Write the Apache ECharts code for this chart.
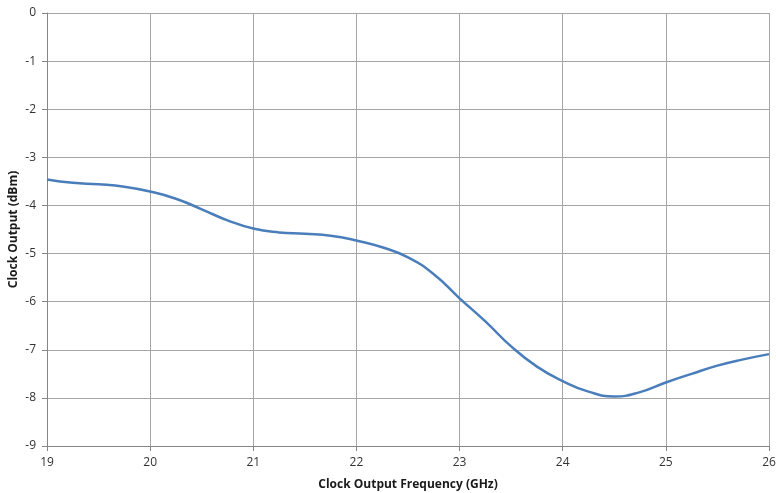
<!DOCTYPE html>
<html>
<head>
<meta charset="utf-8">
<script src="https://cdn.jsdelivr.net/npm/echarts@6/dist/echarts.min.js"></script>
<style>html,body{margin:0;padding:0;background:#fff}#c{width:776px;height:493px}</style>
</head>
<body>
<div id="c"></div>
<script>
const freqGHz = [19, 19.25, 19.5, 19.75, 20, 20.25, 20.5, 20.75, 21, 21.25, 21.5, 21.75, 22, 22.25, 22.5, 22.75, 23, 23.25, 23.5, 23.75, 24, 24.25, 24.5, 24.75, 25, 25.25, 25.5, 25.75, 26];
const outputDbm = [-3.46, -3.53, -3.56, -3.61, -3.71, -3.86, -4.08, -4.31, -4.48, -4.56, -4.59, -4.63, -4.73, -4.87, -5.08, -5.43, -5.93, -6.41, -6.93, -7.35, -7.65, -7.87, -7.97, -7.88, -7.68, -7.50, -7.33, -7.20, -7.09];
const xTitle = 'Clock Output Frequency (GHz)';
const yTitle = 'Clock Output (dBm)';

const chart = echarts.init(document.getElementById('c'), null, {renderer: 'canvas'});
const font = 'Open Sans, Liberation Sans, sans-serif';
chart.setOption({
  animation: false,
  grid: {left: 47, right: 7, top: 13, bottom: 47, containLabel: false, outerBoundsMode: 'none'},
  xAxis: {
    type: 'value', min: 19, max: 26, interval: 1,
    name: xTitle, nameLocation: 'middle', nameGap: 33, nameMoveOverlap: false,
    nameTextStyle: {fontFamily: font, fontWeight: 'bold', fontSize: 12, color: '#1a1a1a'},
    axisLine: {onZero: false, lineStyle: {color: '#868686', width: 1}},
    axisTick: {show: true, length: 5, lineStyle: {color: '#868686'}},
    axisLabel: {fontFamily: font, fontSize: 12, color: '#333', margin: 11},
    splitLine: {show: true, lineStyle: {color: '#a6a6a6', width: 1}}
  },
  yAxis: {
    type: 'value', min: -9, max: 0, interval: 1,
    name: yTitle, nameLocation: 'middle', nameGap: 27, nameRotate: 90, nameMoveOverlap: false,
    nameTextStyle: {fontFamily: font, fontWeight: 'bold', fontSize: 12, color: '#1a1a1a'},
    axisLine: {show: true, onZero: false, lineStyle: {color: '#868686', width: 1}},
    axisTick: {show: true, length: 5, lineStyle: {color: '#868686'}},
    axisLabel: {fontFamily: font, fontSize: 12, color: '#333', margin: 11},
    splitLine: {show: true, lineStyle: {color: '#a6a6a6', width: 1}}
  },
  series: [{
    type: 'line',
    data: freqGHz.map((f, i) => [f, outputDbm[i]]),
    smooth: 0.5,
    showSymbol: false,
    lineStyle: {color: '#4a7ebb', width: 2.5}
  }]
});
</script>
</body>
</html>
